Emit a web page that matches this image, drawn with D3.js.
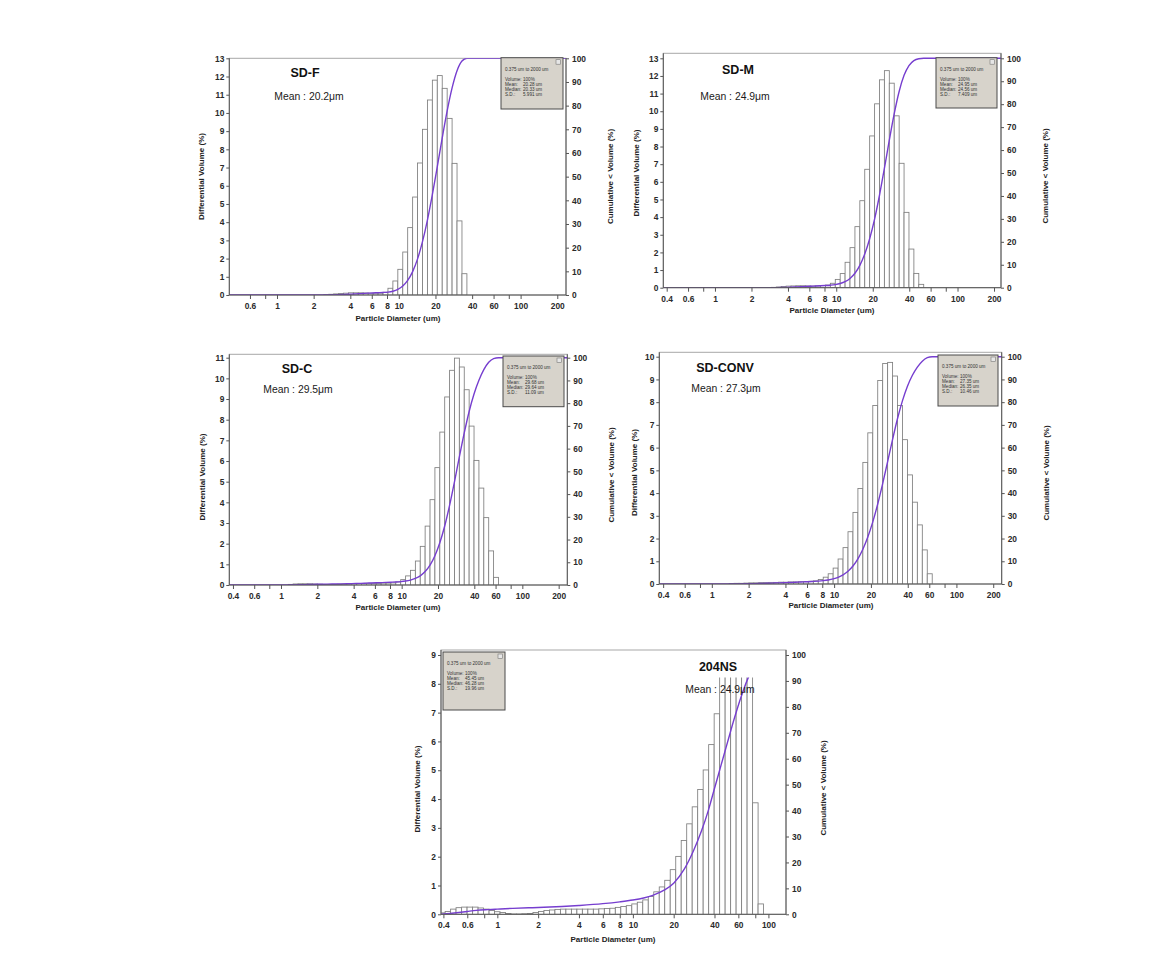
<!DOCTYPE html>
<html><head><meta charset="utf-8">
<script src="https://cdn.jsdelivr.net/npm/d3@7"></script>
<style>
body{margin:0;background:#fff;}
svg{display:block;font-family:"Liberation Sans",Arial,sans-serif;}
</style></head><body>
<svg id="c" width="1170" height="972"></svg>
<script>
// ---- DATA ----
// LS particle size analyser channel edges (um)
const channelEdges = [0.375,0.412,0.452,0.496,0.545,0.598,0.657,0.721,0.791,0.869,0.953,1.047,1.149,1.261,1.385,1.520,1.669,1.832,2.010,2.207,2.423,2.660,2.920,3.205,3.519,3.863,4.240,4.655,5.110,5.610,6.158,6.760,7.421,8.147,8.943,9.819,10.78,11.83,12.99,14.26,15.65,17.18,18.86,20.71,22.73,24.95,27.39,30.07,33.01,36.24,39.78,43.67,47.94,52.63,57.77,63.42,69.62,76.43,83.90,92.09,101.1];

const panelNames = ["SD-F","SD-M","SD-C","SD-CONV","204NS"];
const meanLabels = ["Mean : 20.2μm","Mean : 24.9μm","Mean : 29.5μm","Mean : 27.3μm","Mean : 24.9μm"];
const statsRange = "0.375 um to 2000 um";
const statsVolume = ["100%","100%","100%","100%","100%"];
const statsMean = ["20.28 um","24.95 um","29.68 um","27.35 um","45.45 um"];
const statsMedian = ["20.33 um","24.56 um","29.64 um","26.35 um","46.28 um"];
const statsSD = ["5.991 um","7.409 um","11.09 um","10.46 um","19.96 um"];

const yTopTick = [13,13,11,10,9];
const xTickValues = [0.4,0.6,0.8,1,2,4,6,8,10,20,40,60,80,100,200];
const xTickUnlabeled = [0.8,80];
const cumTicks = [0,10,20,30,40,50,60,70,80,90,100];

// differential volume (%) per channel, starting at the given channel index
const sdfStart = 20;
const sdfValues = [0.02,0.04,0.06,0.08,0.1,0.12,0.12,0.12,0.11,0.1,0.1,0.1,0.15,
  0.37,0.77,1.41,2.36,3.7,5.38,7.25,9.1,10.71,11.8,12.05,11.35,9.7,7.23,4.07,1.17];
const sdmStart = 22;
const sdmValues = [0.02,0.04,0.07,0.09,0.1,0.11,0.11,0.1,0.09,0.1,0.12,
  0.15,0.25,0.47,0.8,1.44,2.27,3.46,4.93,6.71,8.6,10.42,11.78,12.3,11.59,9.74,7.05,4.27,2.19,0.81,0.19];
const sdcStart = 12;
const sdcValues = [0.03,0.05,0.06,0.06,0.06,0.05,0.04,0.03,0.03,0.03,0.04,0.05,0.06,0.07,0.07,0.08,0.08,0.08,0.08,0.09,0.09,
  0.1,0.15,0.26,0.44,0.71,1.16,1.87,2.85,4.13,5.68,7.4,9.1,10.39,10.98,10.55,9.45,7.69,6.03,4.69,3.26,1.65,0.37];
const sdconvStart = 14;
const sdconvValues = [0.02,0.03,0.03,0.04,0.05,0.05,0.06,0.06,0.07,0.07,0.08,0.08,0.09,0.09,0.1,0.1,0.12,0.14,0.2,
  0.3,0.45,0.7,1.1,1.6,2.3,3.15,4.2,5.35,6.65,7.85,8.95,9.7,9.75,9.15,7.85,6.35,4.8,3.6,2.6,1.5,0.45];
const ns204Start = 0;
const ns204Values = [0.05,0.1,0.18,0.23,0.25,0.25,0.25,0.22,0.18,0.13,0.09,0.06,0.03,
  0.01,0.01,0.02,0.03,
  0.06,0.1,0.13,0.15,0.17,0.18,0.18,0.18,0.18,0.18,0.18,0.18,0.19,0.2,0.21,
  0.24,0.27,0.3,0.36,0.42,0.5,0.62,0.78,0.95,1.18,1.55,2.01,2.56,3.14,3.73,4.33,5.01,5.89,6.96,
  8.6,8.9,9.0,8.8,8.7,8.5,
  3.87,0.36];
// 204NS cumulative curve as drawn
const ns204CumDiam = [0.384,0.45,0.5,0.6,0.7,0.85,1.0,1.3,1.7,2,3,4,6,8,10,12,14,17,20,24,28,32,36,40,45,50,56,63,70,75];
const ns204CumPct  = [0,0.3,0.6,1.1,1.5,1.8,2.0,2.3,2.5,2.6,3.0,3.4,4.1,4.8,5.5,6.3,7.3,9.3,12.0,17.5,24.5,32,40,48.5,58,66.5,75.5,84,90.5,94];

// ---- LAYOUT ----
const layout = [
  {L:229.3,R:566,T:58.3,B:295,F:58.3,x0:0.406,x1:235.9,lt:[201,176.5],rt:[610,176.5],xt:[398,318.3],nm:[305,73.3],mn:[309,96.7],box:[501,57.7,62,51.3]},
  {L:663.3,R:1001,T:58.3,B:287.7,F:53.3,x0:0.375,x1:228.3,lt:[636,173],rt:[1045.5,176],xt:[832,310.7],nm:[738,70],mn:[735,96.7],box:[936,57.7,61,50.3]},
  {L:229.3,R:567.3,T:357.7,B:585,F:354.3,x0:0.373,x1:235.8,lt:[202,477],rt:[611,475],xt:[398,607.7],nm:[297,369],mn:[298,389],box:[503,356,61,50.7]},
  {L:659.3,R:1001.7,T:356.7,B:584,F:352.3,x0:0.372,x1:234.6,lt:[634.3,472.5],rt:[1046.7,473],xt:[831,605.7],nm:[725,367.7],mn:[726,388.3],box:[938,355,60,51]},
  {L:441,R:786,T:655,B:914.3,F:650,x0:0.384,x1:134.8,lt:[417.3,789],rt:[823.3,788],xt:[613,939.3],nm:[718,667],mn:[720,689.3],box:[443,652,62,58],cover:[680,651,74,26.5]}
];
const starts = [sdfStart,sdmStart,sdcStart,sdconvStart,ns204Start];
const valueSets = [sdfValues,sdmValues,sdcValues,sdconvValues,ns204Values];

const svg = d3.select("#c");
const curveColor = "#763ecf";

layout.forEach((p,i)=>{
  const g = svg.append("g");
  const x = d3.scaleLog().domain([p.x0,p.x1]).range([p.L,p.R]);
  const y = d3.scaleLinear().domain([0,yTopTick[i]]).range([p.B,p.T]);
  const yR = d3.scaleLinear().domain([0,100]).range([p.B,p.T]);
  const clipId = "clip"+i;
  svg.append("clipPath").attr("id",clipId).append("rect")
    .attr("x",p.L).attr("y",p.F).attr("width",p.R-p.L).attr("height",p.B-p.F);

  // frame
  g.append("rect").attr("x",p.L).attr("y",p.F).attr("width",p.R-p.L).attr("height",p.B-p.F)
    .attr("fill","none").attr("stroke","#a8a8a8").attr("stroke-width",1);

  // bars
  const start = starts[i];
  const bars = valueSets[i].map((v,k)=>({lo:channelEdges[start+k],hi:channelEdges[start+k+1],v}));
  g.append("g").attr("clip-path",`url(#${clipId})`).selectAll("rect").data(bars).join("rect")
    .attr("x",d=>x(d.lo)).attr("width",d=>x(d.hi)-x(d.lo))
    .attr("y",d=>y(d.v)).attr("height",d=>y(0)-y(d.v))
    .attr("fill","#fff").attr("stroke","#7e7e7e").attr("stroke-width",0.85);

  // cumulative curve
  let pts;
  if(i===4){
    pts = ns204CumDiam.map((d,k)=>[d,ns204CumPct[k]]);
  } else {
    const vals = valueSets[i];
    const cs = d3.cumsum(vals);
    const tot = cs[cs.length-1];
    pts = [[channelEdges[0],0],[channelEdges[start],0]]
      .concat(vals.map((v,k)=>[channelEdges[start+k+1],cs[k]/tot*100]))
      .concat([[p.x1*1.3,100]]);
  }
  const line = d3.line().x(d=>x(d[0])).y(d=>yR(d[1])).curve(d3.curveMonotoneX);
  g.append("path").attr("clip-path",`url(#${clipId})`).datum(pts).attr("d",line)
    .attr("fill","none").attr("stroke",curveColor).attr("stroke-width",1.4);

  // white label background (204NS)
  if(p.cover){
    g.append("rect").attr("x",p.cover[0]).attr("y",p.cover[1]).attr("width",p.cover[2]).attr("height",p.cover[3]).attr("fill","#fff");
  }

  // axes
  const xt = xTickValues.filter(v=>v>=p.x0 && v<=p.x1);
  const ax = d3.axisBottom(x).tickValues(xt).tickSizeInner(4).tickSizeOuter(0).tickPadding(4)
    .tickFormat(d=>xTickUnlabeled.includes(d)?"":String(d));
  const ay = d3.axisLeft(y).tickValues(d3.range(0,yTopTick[i]+1)).tickSizeInner(3).tickSizeOuter(0).tickPadding(2);
  const ar = d3.axisRight(yR).tickValues(cumTicks).tickSizeInner(3).tickSizeOuter(0).tickPadding(3);
  [[ax,`translate(0,${p.B})`],[ay,`translate(${p.L},0)`],[ar,`translate(${p.R},0)`]].forEach(([a,tr])=>{
    const ga = g.append("g").attr("transform",tr).call(a);
    ga.select(".domain").remove();
    ga.selectAll("line").attr("stroke","#555");
    ga.selectAll("text").attr("font-size",8.4).attr("font-weight","bold").attr("fill","#2a2a2a")
      .attr("font-family","'Liberation Sans',Arial,sans-serif");
  });
  // axis lines
  g.append("line").attr("x1",p.L).attr("x2",p.R).attr("y1",p.B).attr("y2",p.B).attr("stroke","#555");
  g.append("line").attr("x1",p.L).attr("x2",p.L).attr("y1",p.F).attr("y2",p.B).attr("stroke","#555");
  g.append("line").attr("x1",p.R).attr("x2",p.R).attr("y1",p.F).attr("y2",p.B).attr("stroke","#555");

  // axis titles
  g.append("text").attr("transform",`translate(${p.lt[0]},${p.lt[1]}) rotate(-90)`)
    .attr("text-anchor","middle").attr("dominant-baseline","central")
    .attr("font-size",8).attr("font-weight","bold").attr("fill","#222").text("Differential Volume (%)");
  g.append("text").attr("transform",`translate(${p.rt[0]},${p.rt[1]}) rotate(-90)`)
    .attr("text-anchor","middle").attr("dominant-baseline","central")
    .attr("font-size",8).attr("font-weight","bold").attr("fill","#222").text("Cumulative < Volume (%)");
  g.append("text").attr("x",p.xt[0]).attr("y",p.xt[1])
    .attr("text-anchor","middle").attr("dominant-baseline","central")
    .attr("font-size",8).attr("font-weight","bold").attr("fill","#222").text("Particle Diameter (um)");

  // stats box
  const [bx,by,bw,bh] = p.box;
  const sb = g.append("g");
  sb.append("rect").attr("x",bx).attr("y",by).attr("width",bw).attr("height",bh)
    .attr("fill","#d7d3cb").attr("stroke","#4a4a4a").attr("stroke-width",1);
  sb.append("rect").attr("x",bx+bw-7).attr("y",by+2).attr("width",4.5).attr("height",4.5)
    .attr("fill","#e6e6e6").attr("stroke","#777").attr("stroke-width",0.6);
  sb.append("text").attr("x",bx+4).attr("y",by+11.5).attr("dominant-baseline","central")
    .attr("font-size",4.6).attr("fill","#333").text(statsRange);
  const rows = [["Volume:",statsVolume[i]],["Mean:",statsMean[i]],["Median:",statsMedian[i]],["S.D.:",statsSD[i]]];
  rows.forEach((r,k)=>{
    sb.append("text").attr("x",bx+4).attr("y",by+21.6+k*4.9).attr("dominant-baseline","central")
      .attr("font-size",4.6).attr("fill","#333").text(r[0]);
    sb.append("text").attr("x",bx+22).attr("y",by+21.6+k*4.9).attr("dominant-baseline","central")
      .attr("font-size",4.6).attr("fill","#333").text(r[1]);
  });

  // panel annotations
  g.append("text").attr("x",p.nm[0]).attr("y",p.nm[1]).attr("text-anchor","middle").attr("dominant-baseline","central")
    .attr("font-size",12.5).attr("font-weight","bold").attr("fill","#111").text(panelNames[i]);
  g.append("text").attr("x",p.mn[0]).attr("y",p.mn[1]).attr("text-anchor","middle").attr("dominant-baseline","central")
    .attr("font-size",10.4).attr("fill","#1a1a1a").text(meanLabels[i]);
});
</script>
</body></html>
